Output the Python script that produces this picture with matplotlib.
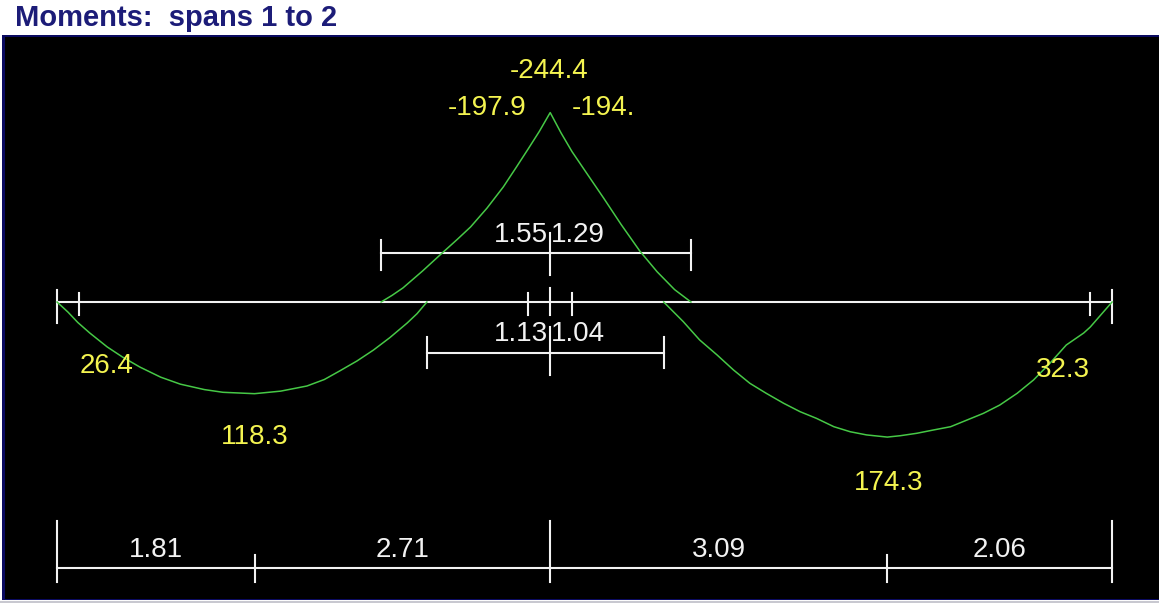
import matplotlib
matplotlib.use('Agg')
import matplotlib.pyplot as plt

# span layout (m): distances between support, max-moment points
seg_lengths = [1.81, 2.71, 3.09, 2.06]
seg_labels = ['1.81', '2.71', '3.09', '2.06']
span_lengths = [4.52, 5.15]
face = 0.2  # support half width

# points of zero moment either side of the middle support
neg_zero = [1.55, 1.29]
pos_zero = [1.13, 1.04]

# moment envelope, sagging positive (x in m, M in kNm)
span1_x = [0.00, 0.10, 0.19, 0.30, 0.46, 0.60, 0.76, 0.95, 1.13, 1.35, 1.52, 1.81,
           2.05, 2.29, 2.45, 2.59, 2.75, 2.90, 3.05, 3.21, 3.30, 3.39]
span1_m = [0.0, 13.0, 26.4, 40.0, 58.0, 71.0, 84.0, 97.0, 106.0, 113.0, 116.5, 118.3,
           115.0, 108.4, 100.0, 89.0, 76.0, 62.0, 46.0, 27.0, 15.0, 0.0]

hog_x = [2.97, 3.07, 3.17, 3.35, 3.54, 3.67, 3.79, 3.94, 4.09, 4.21, 4.32, 4.42, 4.52,
         4.62, 4.72, 4.86, 5.01, 5.17, 5.34, 5.50, 5.66, 5.81]
hog_m = [0.0, -8.5, -18.1, -40.0, -64.5, -81.0, -96.8, -121.0, -148.4, -174.0, -197.9,
         -220.0, -244.4, -218.0, -194.0, -165.0, -134.0, -100.0, -66.0, -39.0, -16.0, 0.0]

span2_x = [5.56, 5.74, 5.89, 6.05, 6.20, 6.35, 6.50, 6.66, 6.81, 6.96, 7.12, 7.27, 7.42,
           7.61, 7.73, 7.88, 8.03, 8.19, 8.34, 8.49, 8.64, 8.80, 8.95, 9.10, 9.25, 9.41,
           9.47, 9.67]
span2_m = [0.0, 25.4, 49.0, 68.4, 87.7, 104.9, 117.8, 130.7, 141.5, 150.1, 160.9, 167.4,
           171.5, 174.3, 172.5, 169.4, 165.2, 160.9, 152.3, 143.7, 133.0, 117.8, 100.6,
           79.1, 55.5, 40.0, 32.3, 0.0]

# value labels: text, x, M-position
value_labels = [
    ('-244.4', 4.51, -298),
    ('-197.9', 3.94, -250),
    ('-194.', 5.01, -250),
    ('26.4', 0.45, 83),
    ('118.3', 1.81, 174),
    ('32.3', 9.22, 88),
    ('174.3', 7.62, 234),
]

FONT = ['Liberation Sans', 'DejaVu Sans']
FS = 20
WHITE = '#f2f2f2'
YELLOW = '#f4f450'
GREEN = '#46c846'

fig = plt.figure(figsize=(11.59, 6.03), dpi=100)
fig.patch.set_facecolor('white')

# navy frame of the drawing area
frame = fig.add_axes([0.0, 0.0, 1.0, 1.0])
frame.set_xlim(0, 1159)
frame.set_ylim(603, 0)
frame.axis('off')
frame.add_patch(plt.Rectangle((2, 35), 1157, 565, facecolor='#0a0a60', edgecolor='none'))
frame.plot([0, 1159], [601.5, 601.5], color='#c8c8d0', lw=1.5)

ax = fig.add_axes([5 / 1159, 4 / 603, 1154 / 1159, 562 / 603])
ax.set_facecolor('black')
ax.set_xlim(-0.477, 10.10)
ax.set_ylim(383.2, -341.9)
ax.set_xticks([])
ax.set_yticks([])
for s in ax.spines.values():
    s.set_visible(False)

fig.text(15 / 1159, 1 - 18 / 603, 'Moments:  spans 1 to 2', color='#1c1c78',
         fontsize=21, fontweight='bold', family=FONT, va='center', ha='left')

L = sum(span_lengths)
sup = span_lengths[0]
lw = 1.5

# beam axis with end, face and support ticks
ax.plot([0, L], [0, 0], color=WHITE, lw=lw)
for xe in [0, L]:
    ax.plot([xe, xe], [-15.5, 27], color=WHITE, lw=lw)
for xf in [face, L - face, sup - face, sup + face]:
    ax.plot([xf, xf], [-11.6, 16.8], color=WHITE, lw=lw)
ax.plot([sup, sup], [-18, 16.8], color=WHITE, lw=lw)

# zero-moment dimension lines
yu = -63.2
ax.plot([sup - neg_zero[0], sup + neg_zero[1]], [yu, yu], color=WHITE, lw=lw)
for xt in [sup - neg_zero[0], sup + neg_zero[1]]:
    ax.plot([xt, xt], [-80.6, -41.3], color=WHITE, lw=lw)
ax.plot([sup, sup], [-89, -35], color=WHITE, lw=lw)
ax.text(sup - 0.02, -87, f'{neg_zero[0]:.2f}', color=WHITE, fontsize=FS,
        family=FONT, ha='right', va='center')
ax.text(sup + 0.01, -87, f'{neg_zero[1]:.2f}', color=WHITE, fontsize=FS,
        family=FONT, ha='left', va='center')

yl = 65.8
ax.plot([sup - pos_zero[0], sup + pos_zero[1]], [yl, yl], color=WHITE, lw=lw)
for xt in [sup - pos_zero[0], sup + pos_zero[1]]:
    ax.plot([xt, xt], [45, 85], color=WHITE, lw=lw)
ax.plot([sup, sup], [32, 94], color=WHITE, lw=lw)
ax.text(sup - 0.02, 41, f'{pos_zero[0]:.2f}', color=WHITE, fontsize=FS,
        family=FONT, ha='right', va='center')
ax.text(sup + 0.01, 41, f'{pos_zero[1]:.2f}', color=WHITE, fontsize=FS,
        family=FONT, ha='left', va='center')

# moment curves
ax.plot(span1_x, span1_m, color=GREEN, lw=1.1)
ax.plot(hog_x, hog_m, color=GREEN, lw=1.1)
ax.plot(span2_x, span2_m, color=GREEN, lw=1.1)

for txt, x, y in value_labels:
    ax.text(x, y, txt, color=YELLOW, fontsize=FS, family=FONT,
            ha='center', va='center')

# overall dimension string along the bottom
yb = 343.2
ax.plot([0, L], [yb, yb], color=WHITE, lw=lw)
pos = 0.0
marks = [0.0]
for d in seg_lengths:
    pos += d
    marks.append(pos)
for i, xm in enumerate(marks):
    if i % 2 == 0:
        ax.plot([xm, xm], [282.6, 361.3], color=WHITE, lw=lw)
    else:
        ax.plot([xm, xm], [326.5, 361.3], color=WHITE, lw=lw)
for i, lab in enumerate(seg_labels):
    ax.text((marks[i] + marks[i + 1]) / 2, 320, lab, color=WHITE, fontsize=FS,
            family=FONT, ha='center', va='center')

fig.savefig('out.png', dpi=100, facecolor='white')
